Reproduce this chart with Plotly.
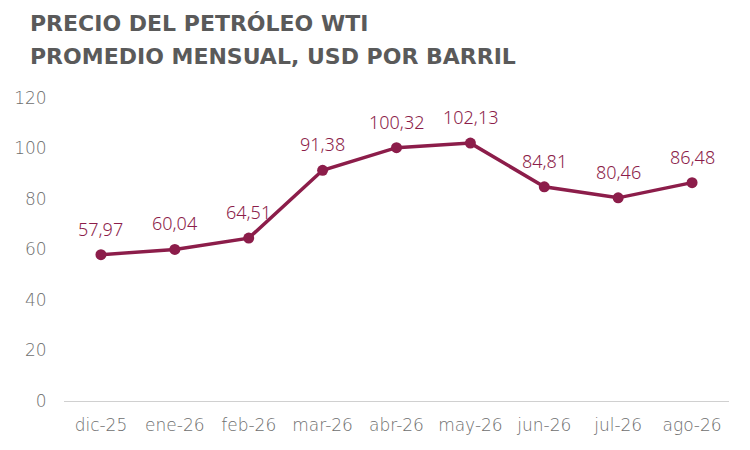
import plotly.graph_objects as go

# Precio promedio mensual del WTI (USD por barril)
meses = ["dic-25", "ene-26", "feb-26", "mar-26", "abr-26",
         "may-26", "jun-26", "jul-26", "ago-26"]
precios = [57.97, 60.04, 64.51, 91.38, 100.32, 102.13, 84.81, 80.46, 86.48]
etiquetas = [f"{v:.2f}".replace(".", ",") for v in precios]

y_ticks = [0, 20, 40, 60, 80, 100, 120]

titulo = ["PRECIO DEL PETRÓLEO WTI", "PROMEDIO MENSUAL, USD POR BARRIL"]

granate = "#8c1d4a"
gris = "#6e6e6e"

fig = go.Figure()
fig.add_trace(go.Scatter(
    x=meses, y=precios,
    mode="lines+markers",
    line=dict(color=granate, width=3.5),
    marker=dict(color=granate, size=11),
    cliponaxis=False,
    hoverinfo="skip",
))

# etiquetas de datos sobre cada punto
notas = [dict(
    x=m, y=p, xref="x", yref="y", text=t, showarrow=False, yshift=26,
    font=dict(family="Noto Sans, sans-serif", size=18, color=granate, weight=300),
) for m, p, t in zip(meses, precios, etiquetas)]

# titulo en dos lineas
for linea, yy in zip(titulo, [1.2475, 1.1386]):
    notas.append(dict(
        text="<b>" + linea + "</b>",
        xref="paper", yref="paper", x=-0.054, y=yy,
        xanchor="left", yanchor="middle", align="left", showarrow=False,
        font=dict(family="DejaVu Sans, sans-serif", size=22, color="#5a5a5a"),
    ))

fig.update_layout(
    width=750, height=450,
    margin=dict(l=56, r=29, t=90, b=57),
    paper_bgcolor="white", plot_bgcolor="white",
    showlegend=False,
    annotations=notas,
)

eje_font = dict(family="DejaVu Sans, sans-serif", size=17, color=gris, weight=200)

fig.update_xaxes(
    type="category", range=[-0.5, 8.5], automargin=False,
    showgrid=False, showline=False,
    ticks="outside", ticklen=9, tickcolor="rgba(0,0,0,0)",
    tickfont=eje_font,
)
fig.update_yaxes(
    range=[0, 120], tickvals=y_ticks, automargin=False,
    showgrid=False, zeroline=True, zerolinecolor="#d0d0d0", zerolinewidth=1,
    showline=False,
    ticks="outside", ticklen=13, tickcolor="rgba(0,0,0,0)",
    tickfont=eje_font,
)

fig.write_html("out.html")
